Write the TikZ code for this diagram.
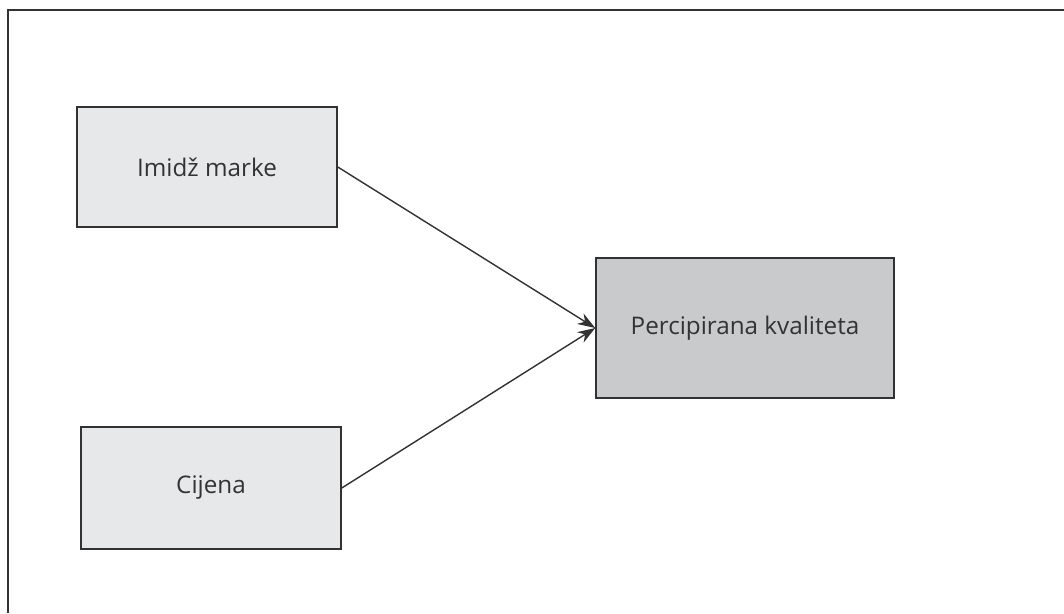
\documentclass[tikz,border=0pt]{standalone}
\usepackage{fontspec}
\setmainfont{Open Sans}
\usetikzlibrary{arrows.meta}
\definecolor{boxlight}{RGB}{230,232,234}
\definecolor{boxdark}{RGB}{200,202,204}
\definecolor{linegray}{RGB}{50,50,50}
\tikzset{>={Stealth[length=10pt,width=7pt]}}
\tikzset{%
    factor/.style={draw=linegray, line width=0.9pt, fill=boxlight,
        minimum width=5.2cm, minimum height=2.4cm, inner sep=0pt,
        text=black!80, font=\fontsize{13.8}{16}\selectfont},
    outcome/.style={factor, fill=boxdark, minimum width=5.96cm, minimum height=2.8cm}
}

\begin{document}
\begin{tikzpicture}
\useasboundingbox (0,0) rectangle (21.28,-12.26);
\draw[linegray, line width=0.9pt] (0.16,-12.26) -- (0.16,-0.2) -- (21.28,-0.2);

\node[factor] (imidz) at (4.14,-3.34) {Imidž marke};
\node[factor, minimum height=2.44cm] (cijena) at (4.22,-9.76) {Cijena};
\node[outcome] (kvaliteta) at (14.9,-6.56) {Percipirana kvaliteta};

\draw[->, linegray, line width=0.8pt] (imidz.east) -- (kvaliteta.west);
\draw[->, linegray, line width=0.8pt] (cijena.east) -- (kvaliteta.west);
\end{tikzpicture}
\end{document}
